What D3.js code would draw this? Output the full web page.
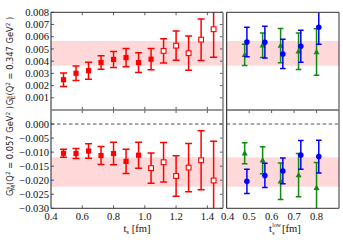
<!DOCTYPE html>
<html><head><meta charset="utf-8">
<script src="https://cdn.jsdelivr.net/npm/d3@7"></script>
<style>html,body{margin:0;padding:0;background:#fff;}svg{display:block;}</style>
</head><body>
<svg id="c" width="343" height="245"></svg>
<script>
// ---- data ----
const tsL = [0.48,0.56,0.64,0.72,0.80,0.88,0.96,1.04,1.12,1.20,1.28,1.36,1.44];
const geVal = [0.00248,0.00301,0.00322,0.00389,0.00414,0.00429,0.00388,0.00416,0.00484,0.00527,0.00465,0.00576,0.00661];
const geErr = [0.00055,0.0006,0.0007,0.00055,0.00066,0.00075,0.0008,0.00087,0.001,0.0012,0.0014,0.0017,0.0023];
const geOpen = [0,0,0,0,0,0,0,0,1,1,1,1,1];
const gmVal = [-0.0104,-0.0105,-0.0096,-0.0112,-0.0105,-0.0133,-0.0111,-0.0157,-0.0136,-0.0185,-0.0155,-0.0129,-0.0201];
const gmErr = [0.0014,0.0018,0.0026,0.0032,0.004,0.0043,0.0046,0.0054,0.007,0.0072,0.0086,0.0105,0.014];
const gmOpen = [0,0,0,0,0,0,0,1,1,1,1,1,1];

const tLow = [0.48,0.56,0.64,0.72,0.80];
const geGreen = [0.00451,0.0053,0.00527,0.00481,0.00475];
const geGreenErr = [0.00087,0.001,0.0014,0.0015,0.0019];
const geBlue = [0.00557,0.00555,0.00459,0.00522,0.00678];
const geBlueErr = [0.0012,0.0013,0.0012,0.0013,0.0014];
const gmGreen = [-0.0104,-0.0129,-0.0204,-0.0182,-0.0227];
const gmGreenErr = [0.0037,0.0048,0.0065,0.0077,0.009];
const gmBlue = [-0.0204,-0.0183,-0.0167,-0.011,-0.0116];
const gmBlueErr = [0.0043,0.0043,0.0046,0.0051,0.0058];

const geBand = [0.00363, 0.00565];
const gmBand = [-0.02233, -0.01183];

const xTicksL = [0.4,0.6,0.8,1.0,1.2,1.4];
const xTicksR = [0.4,0.5,0.6,0.7,0.8];
const yTicksT = [0.001,0.002,0.003,0.004,0.005,0.006,0.007,0.008];
const yTicksB = [0.000,-0.005,-0.010,-0.015,-0.020,-0.025,-0.030];

// ---- layout ----
const svg = d3.select('#c');
const xL = d3.scaleLinear([0.4,1.5],[51,223]);
const xR = d3.scaleLinear([0.4,0.9],[226.7,339]);
const yT = d3.scaleLinear([0,0.008],[110,12.3]);
const yB = d3.scaleLinear([-0.030,0.005],[208.3,110]);
const RED='#ff0000', BLUE='#0000ff', GREEN='#118a11';
const serif = '"Liberation Serif","DejaVu Serif",serif';
const sans = '"DejaVu Sans",sans-serif';

const panels = [
  {id:'tl', x:xL, y:yT},
  {id:'tr', x:xR, y:yT},
  {id:'bl', x:xL, y:yB},
  {id:'br', x:xR, y:yB}
];
const defs = svg.append('defs');
panels.forEach(p=>{
  const [x0,x1]=p.x.range(), [y1,y0]=p.y.range();
  defs.append('clipPath').attr('id','clip-'+p.id).append('rect')
    .attr('x',x0).attr('y',y0).attr('width',x1-x0).attr('height',y1-y0);
  p.g = svg.append('g').attr('clip-path','url(#clip-'+p.id+')');
});
const P = Object.fromEntries(panels.map(p=>[p.id,p]));

// bands
function band(p, b){
  const [x0,x1]=p.x.range();
  p.g.append('rect').attr('x',x0).attr('width',x1-x0)
    .attr('y',p.y(b[1])).attr('height',p.y(b[0])-p.y(b[1]))
    .attr('fill','#ff0000').attr('fill-opacity',0.15);
}
band(P.tl,geBand); band(P.tr,geBand); band(P.bl,gmBand); band(P.br,gmBand);

// dashed zero line
[P.bl,P.br].forEach(p=>{
  const [x0,x1]=p.x.range();
  p.g.append('line').attr('x1',x0).attr('x2',x1).attr('y1',p.y(0)).attr('y2',p.y(0))
    .attr('stroke','#555').attr('stroke-width',1).attr('stroke-dasharray','3.5,2.5');
});

function errbars(p, xs, vals, errs, color, dx, cap){
  const g = p.g.append('g').attr('stroke',color).attr('stroke-width',1.5).attr('fill','none');
  xs.forEach((xv,i)=>{
    const cx = p.x(xv+dx), yt=p.y(vals[i]+errs[i]), yb=p.y(vals[i]-errs[i]);
    g.append('line').attr('x1',cx).attr('x2',cx).attr('y1',yt).attr('y2',yb);
    g.append('line').attr('x1',cx-cap).attr('x2',cx+cap).attr('y1',yt).attr('y2',yt);
    g.append('line').attr('x1',cx-cap).attr('x2',cx+cap).attr('y1',yb).attr('y2',yb);
  });
}
function squares(p, xs, vals, open){
  xs.forEach((xv,i)=>{
    const cx=p.x(xv), cy=p.y(vals[i]);
    if(open[i]) p.g.append('rect').attr('x',cx-2.4).attr('y',cy-2.4).attr('width',4.8).attr('height',4.8)
      .attr('fill','#fff').attr('stroke',RED).attr('stroke-width',1.1);
    else p.g.append('rect').attr('x',cx-2.6).attr('y',cy-2.6).attr('width',5.2).attr('height',5.2).attr('fill',RED);
  });
}
function triangles(p, xs, vals, dx){
  xs.forEach((xv,i)=>{
    const cx=p.x(xv+dx), cy=p.y(vals[i]);
    p.g.append('path').attr('d',`M${cx},${cy-3.2}L${cx+3},${cy+2.2}L${cx-3},${cy+2.2}Z`).attr('fill',GREEN);
  });
}
function circles(p, xs, vals, dx){
  xs.forEach((xv,i)=>{
    p.g.append('circle').attr('cx',p.x(xv+dx)).attr('cy',p.y(vals[i])).attr('r',2.8).attr('fill',BLUE);
  });
}

errbars(P.tl, tsL, geVal, geErr, RED, 0, 3.5); squares(P.tl, tsL, geVal, geOpen);
errbars(P.bl, tsL, gmVal, gmErr, RED, 0, 3.5); squares(P.bl, tsL, gmVal, gmOpen);

errbars(P.tr, tLow, geGreen, geGreenErr, GREEN, 0, 2.8); triangles(P.tr, tLow, geGreen, 0);
errbars(P.tr, tLow, geBlue, geBlueErr, BLUE, 0.01, 2.8); circles(P.tr, tLow, geBlue, 0.01);
errbars(P.br, tLow, gmGreen, gmGreenErr, GREEN, 0, 2.8); triangles(P.br, tLow, gmGreen, 0);
errbars(P.br, tLow, gmBlue, gmBlueErr, BLUE, 0.01, 2.8); circles(P.br, tLow, gmBlue, 0.01);

// ---- ticks ----
const tk = svg.append('g').attr('stroke','#333').attr('stroke-width',0.8);
function xticks(p, ticks, top, bottom){
  const [y1,y0]=p.y.range();
  ticks.forEach(t=>{
    const x=p.x(t);
    if(top) tk.append('line').attr('x1',x).attr('x2',x).attr('y1',y0).attr('y2',y0+3);
    if(bottom) tk.append('line').attr('x1',x).attr('x2',x).attr('y1',y1).attr('y2',y1-3);
  });
}
function yticks(p, ticks){
  const [x0,x1]=p.x.range();
  ticks.forEach(t=>{
    const y=p.y(t);
    tk.append('line').attr('x1',x0).attr('x2',x0+3).attr('y1',y).attr('y2',y);
    tk.append('line').attr('x1',x1).attr('x2',x1-3).attr('y1',y).attr('y2',y);
  });
}
xticks(P.tl, xTicksL.slice(1), true, true);
xticks(P.bl, xTicksL.slice(1), true, true);
xticks(P.br, xTicksR.slice(1), true, false);
yticks(P.tl, yTicksT);
yticks(P.bl, yTicksB);

// ---- spines ----
const sp = svg.append('g').attr('fill','none');
function line(x1,y1,x2,y2,c,w){ sp.append('line').attr('x1',x1).attr('y1',y1).attr('x2',x2).attr('y2',y2).attr('stroke',c).attr('stroke-width',w); }
line(51,12.3,223,12.3,'#333',1);
line(51,12.3,51,208.3,'#222',1);
line(51,208.3,223,208.3,'#333',1);
line(51,110,223,110,'#777',1.4);
line(223,12.3,223,208.3,'#888',1.6);
line(226.7,12.3,339,12.3,'#333',1);
line(226.7,12.3,226.7,208.3,'#111',1);
line(339,12.3,339,208.3,'#333',1);
line(226.7,208.3,339,208.3,'#333',1);
line(226.7,110,339,110,'#666',1.4);

// ---- tick labels ----
const fmt = d3.format('.3f');
const lab = svg.append('g').attr('font-family',serif).attr('font-size',10.6).attr('fill','#111');
yTicksT.forEach(t=>lab.append('text').attr('x',49).attr('y',yT(t)+3.6).attr('text-anchor','end').text(fmt(t)));
yTicksB.forEach(t=>lab.append('text').attr('x',49).attr('y',yB(t)+3.6).attr('text-anchor','end').text(fmt(t).replace('-','\u2212')));
xTicksL.forEach(t=>lab.append('text').attr('x',xL(t)).attr('y',219.8).attr('text-anchor','middle').text(d3.format('.1f')(t)));
xTicksR.forEach(t=>lab.append('text').attr('x',xR(t)+(t===0.4?1:0)).attr('y',219.8).attr('text-anchor','middle').text(d3.format('.1f')(t)));

// ---- axis labels ----
const xl1 = lab.append('text').attr('x',137).attr('y',231.5).attr('text-anchor','middle');
xl1.append('tspan').text('t');
xl1.append('tspan').attr('font-size',7).attr('dy',2).text('s');
xl1.append('tspan').attr('dy',-2).text(' [fm]');
// right x label: t, stacked sub "s" and sup "low", then [fm]
lab.append('text').attr('x',272).attr('y',232).attr('text-anchor','end').text('t');
lab.append('text').attr('x',272.3).attr('y',234.6).attr('font-size',5.8).text('s');
lab.append('text').attr('x',272.3).attr('y',226.6).attr('font-size',5.8).text('low');
lab.append('text').attr('x',282).attr('y',232).text(' [fm]');

function ylab(cy, sub, q){
  const t = svg.append('text').attr('font-family',sans).attr('font-size',8.3).attr('fill','#222')
    .attr('text-anchor','middle').attr('transform',`translate(13,${cy}) rotate(-90)`);
  t.append('tspan').text('G');
  t.append('tspan').attr('font-size',5.8).attr('dy',-3.2).text('s');
  t.append('tspan').attr('font-size',5.8).attr('dx',-3.4).attr('dy',5.2).text(sub);
  t.append('tspan').attr('dy',-2).text('(Q');
  t.append('tspan').attr('font-size',5.8).attr('dy',-3.2).text('2');
  t.append('tspan').attr('dy',3.2).text(' = '+q+' GeV');
  t.append('tspan').attr('font-size',5.8).attr('dy',-3.2).text('2');
  t.append('tspan').attr('dy',3.2).text(' )');
}
ylab(61,'E','0.347');
ylab(151,'M','0.057');
</script>
</body></html>
